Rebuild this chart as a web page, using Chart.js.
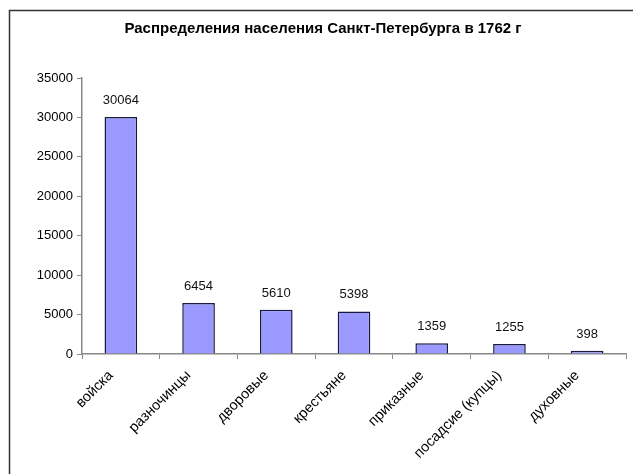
<!DOCTYPE html>
<html>
<head>
<meta charset="utf-8">
<script src="https://cdn.jsdelivr.net/npm/chart.js@4/dist/chart.umd.min.js"></script>
<style>
  html, body { margin: 0; padding: 0; background: #fff; }
  #wrap { width: 633px; height: 474px; }
</style>
</head>
<body>
<div id="wrap"><canvas id="graph"></canvas></div>
<script>
const categories = ['войска', 'разночинцы', 'дворовые', 'крестьяне', 'приказные', 'посадсие (купцы)', 'духовные'];
const population = [30064, 6454, 5610, 5398, 1359, 1255, 398];
const yTicks = [0, 5000, 10000, 15000, 20000, 25000, 30000, 35000];

const FONT = '"Liberation Sans", Arial, sans-serif';

// frame around the whole chart (right and bottom run off the canvas)
const frame = {
    id: 'frame',
    beforeDraw(chart) {
        const ctx = chart.ctx;
        ctx.save();
        ctx.strokeStyle = '#333';
        ctx.lineWidth = 1.5;
        ctx.strokeRect(9.5, 10.5, 640, 480);
        ctx.restore();
    }
};

// value written above each bar
const barValues = {
    id: 'barValues',
    afterDatasetsDraw(chart) {
        const ctx = chart.ctx;
        const meta = chart.getDatasetMeta(0);
        ctx.save();
        ctx.font = '13px ' + FONT;
        ctx.fillStyle = '#111';
        ctx.textAlign = 'center';
        ctx.textBaseline = 'alphabetic';
        meta.data.forEach((bar, i) => {
            ctx.fillText(String(population[i]), bar.x, bar.y - 13);
        });
        ctx.restore();
    }
};

new Chart(document.getElementById('graph'), {
    type: 'bar',
    data: {
        labels: categories,
        datasets: [{
            data: population,
            backgroundColor: '#9999FF',
            borderColor: '#1a1a40',
            borderWidth: 1.5,
            borderSkipped: 'bottom',
            barPercentage: 0.42,
            categoryPercentage: 1
        }]
    },
    options: {
        responsive: true,
        maintainAspectRatio: false,
        animation: false,
        layout: { padding: { left: 20, top: 12, right: 7, bottom: 0 } },
        plugins: {
            legend: { display: false },
            tooltip: { enabled: false },
            title: {
                display: true,
                text: 'Распределения населения Санкт-Петербурга в 1762 г',
                color: '#000',
                font: { family: FONT, size: 15, weight: 'bold' },
                padding: { top: 8, bottom: 40 }
            }
        },
        scales: {
            x: {
                offset: true,
                afterFit(scale) { scale.height = 120; },
                grid: {
                    offset: true,
                    drawOnChartArea: false,
                    drawTicks: true,
                    tickLength: 5,
                    color: '#888'
                },
                border: { color: '#888', width: 1.5 },
                ticks: {
                    minRotation: 45,
                    maxRotation: 45,
                    autoSkip: false,
                    color: '#000',
                    padding: 8,
                    labelOffset: -10,
                    font: { family: FONT, size: 14.5 }
                }
            },
            y: {
                min: 0,
                max: 35000,
                afterFit(scale) { scale.width = 62; },
                afterBuildTicks(scale) { scale.ticks = yTicks.map(v => ({ value: v })); },
                grid: {
                    drawOnChartArea: false,
                    drawTicks: true,
                    tickLength: 5,
                    color: '#888'
                },
                border: { color: '#888', width: 1.5 },
                ticks: {
                    color: '#000',
                    padding: 4,
                    font: { family: FONT, size: 13 },
                    callback: v => String(v)
                }
            }
        }
    },
    plugins: [frame, barValues]
});
</script>
</body>
</html>
